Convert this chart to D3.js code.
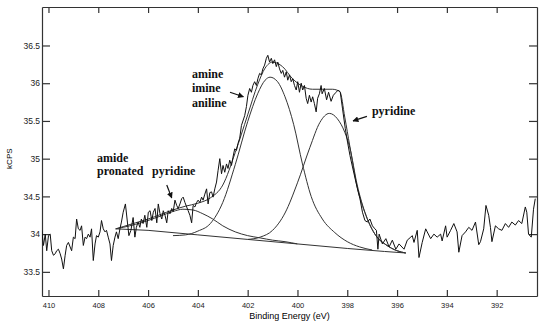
<!DOCTYPE html>
<html>
<head>
<meta charset="utf-8">
<script src="https://cdn.jsdelivr.net/npm/d3@7"></script>
<style>
  body { margin: 0; background: #fff; }
  svg { display: block; }
  .axis path, .axis line { stroke: #333; stroke-width: 1.2; }
  .axis text { font-family: "Liberation Sans", Arial, sans-serif; fill: #222; }
  .note { font-family: "Liberation Serif", "DejaVu Serif", serif; font-weight: bold; font-size: 12px; fill: #111; }
</style>
</head>
<body>
<div id="chart"></div>
<script>
// tick values
const xTicks = [410, 408, 406, 404, 402, 400, 398, 396, 394, 392];
const yTicks = [33.5, 34, 34.5, 35, 35.5, 36, 36.5];

// measured spectrum: [binding energy (eV), kCPS]
const spectrum = [
  [410.27,34.05],[410.2,33.85],[410.13,34.0],[410.07,33.78],[410.0,33.98],[409.93,34.0],[409.87,33.78],[409.8,33.72],
  [409.73,33.74],[409.67,33.78],[409.6,33.8],[409.53,33.74],[409.47,33.67],[409.4,33.54],[409.33,33.72],[409.27,33.85],
  [409.2,33.89],[409.13,33.83],[409.07,33.78],[409.0,33.96],[408.93,33.94],[408.87,34.2],[408.8,34.07],[408.73,34.05],
  [408.67,34.11],[408.6,33.85],[408.53,33.96],[408.47,33.94],[408.4,34.0],[408.33,33.96],[408.27,34.07],[408.2,33.65],
  [408.13,33.87],[408.07,33.98],[408.0,33.96],[407.93,34.03],[407.87,34.18],[407.8,34.07],[407.73,34.03],[407.67,34.05],
  [407.6,33.96],[407.53,33.87],[407.47,33.65],[407.4,33.85],[407.33,33.96],[407.27,34.03],[407.2,33.94],[407.13,34.07],
  [407.07,34.16],[407.0,34.29],[406.91,34.4],[406.83,34.16],[406.77,33.98],[406.69,34.05],[406.6,34.22],[406.53,33.96],
  [406.47,34.09],[406.4,34.16],[406.33,34.09],[406.27,34.2],[406.2,34.14],[406.13,34.25],[406.05,34.09],[405.99,34.29],
  [405.92,34.31],[405.85,34.18],[405.79,34.29],[405.72,34.34],[405.65,34.15],[405.59,34.4],[405.52,34.27],[405.45,34.2],
  [405.39,34.31],[405.32,34.25],[405.25,34.15],[405.19,34.31],[405.12,34.27],[405.05,34.34],[404.99,34.3],[404.92,34.45],
  [404.85,34.38],[404.79,34.34],[404.72,34.4],[404.65,34.47],[404.59,34.49],[404.52,34.42],[404.45,34.36],[404.39,34.31],
  [404.32,34.25],[404.25,34.15],[404.19,34.38],[404.12,34.36],[404.05,34.42],[403.99,34.45],[403.92,34.42],[403.85,34.49],
  [403.79,34.45],[403.72,34.53],[403.65,34.6],[403.59,34.4],[403.52,34.55],[403.45,34.56],[403.39,34.49],[403.32,34.6],
  [403.25,34.69],[403.19,34.84],[403.12,35.0],[403.05,34.8],[402.99,34.91],[402.92,34.82],[402.85,34.93],[402.79,34.87],
  [402.72,34.98],[402.65,34.91],[402.59,35.02],[402.52,35.13],[402.45,35.11],[402.39,35.2],[402.32,35.27],[402.25,35.44],
  [402.12,35.57],[402.05,35.69],[401.99,35.84],[401.92,35.93],[401.85,35.88],[401.79,35.97],[401.72,36.02],[401.65,35.97],
  [401.59,36.06],[401.52,36.13],[401.45,36.11],[401.39,36.19],[401.32,36.24],[401.25,36.33],[401.19,36.37],[401.12,36.28],
  [401.05,36.33],[400.99,36.26],[400.92,36.31],[400.85,36.22],[400.79,36.28],[400.72,36.19],[400.65,36.13],[400.59,36.17],
  [400.52,36.08],[400.45,36.15],[400.39,36.04],[400.32,36.11],[400.25,36.02],[400.19,36.06],[400.12,35.97],[400.05,35.91],
  [399.99,36.02],[399.92,35.88],[399.85,36.0],[399.79,35.91],[399.72,35.97],[399.65,35.8],[399.59,35.73],[399.52,35.84],
  [399.45,35.75],[399.39,35.82],[399.32,35.73],[399.25,35.62],[399.19,35.8],[399.12,35.86],[399.05,35.97],[399.01,35.86],
  [398.92,35.93],[398.83,35.78],[398.75,35.88],[398.65,35.76],[398.56,35.84],[398.45,35.88],[398.36,35.91],[398.28,35.88],
  [398.19,35.66],[398.08,35.4],[397.99,35.22],[397.89,35.04],[397.79,34.89],[397.68,34.73],[397.59,34.6],[397.49,34.47],
  [397.39,34.29],[397.29,34.18],[397.19,34.16],[397.09,34.2],[396.99,34.11],[396.89,34.07],[396.83,34.05],[396.77,33.8],
  [396.72,34.0],[396.59,33.87],[396.45,33.94],[396.32,33.83],[396.19,33.92],[396.05,33.8],[395.92,33.87],[395.72,33.8],
  [395.59,33.92],[395.45,33.96],[395.39,33.98],[395.32,33.89],[395.19,34.05],[395.12,33.69],[394.99,33.89],[394.85,34.07],
  [394.79,34.03],[394.65,33.94],[394.52,34.0],[394.39,33.96],[394.25,34.0],[394.19,33.91],[394.05,34.11],[393.99,33.96],
  [393.85,34.05],[393.72,34.14],[393.59,34.03],[393.52,33.76],[393.39,33.98],[393.25,34.03],[393.12,34.09],[392.99,34.05],
  [392.85,34.16],[392.72,33.86],[392.65,33.9],[392.52,34.07],[392.43,34.38],[392.32,34.25],[392.25,34.09],[392.19,33.9],
  [392.05,34.11],[391.92,34.07],[391.79,34.05],[391.65,34.14],[391.52,34.09],[391.39,34.16],[391.25,34.12],[391.12,34.18],
  [390.99,34.14],[390.85,34.36],[390.79,34.29],[390.72,34.0],[390.61,33.96],[390.52,34.33],[390.45,34.47]
];

// fitted envelope and background
const envelope = [
  [407.3,34.07],[407.0,34.1],[406.5,34.15],[406.0,34.2],[405.5,34.26],[405.0,34.32],[404.5,34.37],[404.0,34.41],
  [403.5,34.48],[403.0,34.65],[402.5,35.08],[402.0,35.58],[401.6,35.98],[401.3,36.2],[401.0,36.28],[400.6,36.22],
  [400.2,36.06],[399.8,35.96],[399.4,35.92],[399.0,35.92],[398.6,35.92],[398.3,35.89],[398.1,35.55],[397.9,35.17],
  [397.6,34.62],[397.25,34.25],[396.85,33.98],[396.45,33.86],[396.0,33.78],[395.65,33.75]
];
const background = [
  [407.3,34.07],[406.0,34.05],[404.0,33.99],[402.0,33.93],[400.0,33.87],[398.0,33.81],[396.5,33.77],[395.65,33.75]
];

// fitted components
const peakAmide = [
  [407.3,34.07],[407.0,34.09],[406.5,34.13],[406.0,34.18],[405.5,34.24],[405.0,34.3],[404.6,34.33],[404.2,34.32],
  [403.8,34.27],[403.4,34.2],[403.0,34.11],[402.5,34.03],[402.0,33.98],[401.5,33.95],[401.0,33.92],[400.5,33.9],[400.0,33.87]
];
const peakAmine = [
  [405.0,33.98],[404.5,33.99],[404.0,34.04],[403.5,34.14],[403.0,34.42],[402.5,34.92],[402.0,35.49],[401.6,35.86],
  [401.3,36.04],[401.1,36.08],[400.8,36.02],[400.5,35.82],[400.15,35.45],[399.8,34.93],[399.45,34.5],[399.0,34.2],
  [398.5,34.02],[398.0,33.9],[397.5,33.83],[397.0,33.79]
];
const peakPyridine = [
  [402.0,33.93],[401.5,33.96],[401.0,34.05],[400.5,34.28],[400.0,34.68],[399.5,35.15],[399.1,35.48],[398.72,35.6],
  [398.4,35.53],[398.1,35.35],[397.9,35.15],[397.6,34.65],[397.25,34.25],[396.85,33.98],[396.45,33.86],[396.0,33.78],[395.65,33.75]
];

// annotations (anchored in data units)
const notes = [
  { text: "amine", be: 404.24, kcps: 36.07 },
  { text: "imine", be: 404.24, kcps: 35.88 },
  { text: "aniline", be: 404.24, kcps: 35.68 },
  { text: "amide", be: 408.05, kcps: 34.96 },
  { text: "pronated", be: 408.05, kcps: 34.78 },
  { text: "pyridine", be: 405.84, kcps: 34.78 },
  { text: "pyridine", be: 397.01, kcps: 35.58 }
];
const arrows = [
  { from: [402.71, 35.88], to: [402.17, 35.82] },
  { from: [405.25, 34.65], to: [405.05, 34.48] },
  { from: [397.21, 35.56], to: [397.77, 35.5] }
];

const margin = { top: 7, right: 7, bottom: 25, left: 42 },
      width = 544 - margin.left - margin.right,
      height = 321 - margin.top - margin.bottom;

const svg = d3.select("#chart").append("svg")
  .attr("width", width + margin.left + margin.right)
  .attr("height", height + margin.top + margin.bottom)
  .append("g")
  .attr("transform", `translate(${margin.left},${margin.top})`);

const x = d3.scaleLinear().domain([410.26, 390.38]).range([0, width]);
const y = d3.scaleLinear().domain([33.18, 37.01]).range([height, 0]);

svg.append("defs").append("clipPath").attr("id", "clip")
  .append("rect").attr("width", width).attr("height", height);

svg.append("defs").append("marker")
  .attr("id", "head")
  .attr("viewBox", "0 0 10 10")
  .attr("refX", 9).attr("refY", 5)
  .attr("markerWidth", 6).attr("markerHeight", 6)
  .attr("markerUnits", "userSpaceOnUse")
  .attr("orient", "auto")
  .append("path").attr("d", "M0,0L10,5L0,10Z").attr("fill", "#111");

// axes, ticks point inward on all four sides
svg.append("g").attr("class", "axis")
  .attr("transform", `translate(0,${height})`)
  .call(d3.axisBottom(x).tickValues(xTicks).tickSizeInner(-6).tickSizeOuter(0).tickPadding(7).tickFormat(d => d))
  .selectAll("text").style("font-size", "7.5px");

svg.append("g").attr("class", "axis")
  .call(d3.axisTop(x).tickValues(xTicks).tickSizeInner(-6).tickSizeOuter(0).tickFormat(""));

svg.append("g").attr("class", "axis")
  .call(d3.axisLeft(y).tickValues(yTicks).tickSizeInner(-8).tickSizeOuter(0).tickPadding(2).tickFormat(d => d))
  .selectAll("text").style("font-size", "8.5px");

svg.append("g").attr("class", "axis")
  .attr("transform", `translate(${width},0)`)
  .call(d3.axisRight(y).tickValues(yTicks).tickSizeInner(-8).tickSizeOuter(0).tickFormat(""));

const line = d3.line().x(d => x(d[0])).y(d => y(d[1]));
const smooth = d3.line().x(d => x(d[0])).y(d => y(d[1])).curve(d3.curveMonotoneX);

const plot = svg.append("g").attr("clip-path", "url(#clip)");

[background, peakAmide, peakAmine, peakPyridine, envelope].forEach(s => {
  plot.append("path")
    .datum(s)
    .attr("fill", "none")
    .attr("stroke", "#333")
    .attr("stroke-width", 1)
    .attr("d", s === background ? line : smooth);
});

plot.append("path")
  .datum(spectrum)
  .attr("fill", "none")
  .attr("stroke", "#111")
  .attr("stroke-width", 1)
  .attr("stroke-linejoin", "round")
  .attr("d", line);

// labels
svg.selectAll("text.note")
  .data(notes)
  .enter()
  .append("text")
  .attr("class", "note")
  .attr("x", d => x(d.be))
  .attr("y", d => y(d.kcps))
  .text(d => d.text);

svg.selectAll("line.arrow")
  .data(arrows)
  .enter()
  .append("line")
  .attr("class", "arrow")
  .attr("x1", d => x(d.from[0])).attr("y1", d => y(d.from[1]))
  .attr("x2", d => x(d.to[0])).attr("y2", d => y(d.to[1]))
  .attr("stroke", "#111")
  .attr("stroke-width", 1.2)
  .attr("marker-end", "url(#head)");

// Label Y
svg.append("text")
  .attr("x", -y(35))
  .attr("y", -30)
  .attr("transform", "rotate(-90)")
  .attr("text-anchor", "middle")
  .style("font-family", "Liberation Sans, Arial, sans-serif")
  .style("font-size", "8px")
  .text("kCPS");

// Label X
svg.append("text")
  .attr("x", width / 2)
  .attr("y", height + 23)
  .attr("text-anchor", "middle")
  .style("font-family", "Liberation Sans, Arial, sans-serif")
  .style("font-size", "9px")
  .text("Binding Energy (eV)");
</script>
</body>
</html>
